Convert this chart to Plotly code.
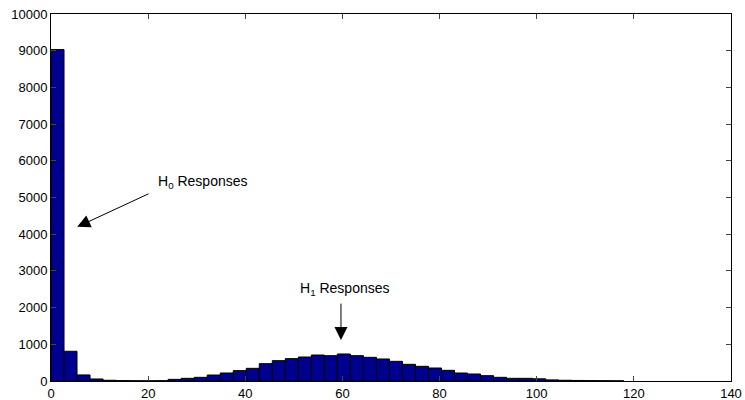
import plotly.graph_objects as go

bin_width = 2.68
counts = [9030, 810, 165, 55, 20, 10, 6, 5, 8, 45,
          73, 100, 163, 218, 282, 345, 472, 554, 609, 654,
          708, 690, 736, 690, 645, 600, 536, 454, 400, 354,
          291, 218, 191, 145, 100, 73, 73, 60, 30, 20,
          15, 10, 8, 5]
centers = [bin_width * (i + 0.5) for i in range(len(counts))]

x_ticks = [0, 20, 40, 60, 80, 100, 120, 140]
y_ticks = [0, 1000, 2000, 3000, 4000, 5000, 6000, 7000, 8000, 9000, 10000]

fig = go.Figure(go.Bar(
    x=centers, y=counts, width=bin_width,
    marker=dict(color="rgb(0,0,143)", line=dict(color="black", width=1)),
))

font = dict(family="Liberation Sans, Arial, sans-serif", size=13, color="black")
afont = dict(family="Liberation Sans, Arial, sans-serif", size=14, color="black")

fig.update_layout(
    width=745, height=400,
    margin=dict(l=51, r=14, t=14, b=19),
    plot_bgcolor="white", paper_bgcolor="white",
    showlegend=False, font=font,
    xaxis=dict(range=[0, 140], tickvals=x_ticks, ticktext=[str(v) for v in x_ticks],
               ticks="inside", ticklen=5, automargin=False,
               showline=True, linecolor="black", linewidth=1, mirror="ticks",
               showgrid=False, zeroline=False, tickfont=font),
    yaxis=dict(range=[0, 10000], tickvals=y_ticks, ticktext=[str(v) for v in y_ticks],
               ticks="inside", ticklen=5, automargin=False,
               showline=True, linecolor="black", linewidth=1, mirror="ticks",
               showgrid=False, zeroline=False, tickfont=font),
    annotations=[
        dict(x=5.4, y=4200, ax=20.4, ay=5120, xref="x", yref="y", axref="x", ayref="y",
             text="", showarrow=True, arrowhead=2, arrowsize=2.6, arrowwidth=1, arrowcolor="black"),
        dict(x=21.6, y=5420, xref="x", yref="y", text="H<sub>0</sub> Responses",
             showarrow=False, xanchor="left", yanchor="middle", font=afont),
        dict(x=59.7, y=1120, ax=59.7, ay=2150, xref="x", yref="y", axref="x", ayref="y",
             text="", showarrow=True, arrowhead=2, arrowsize=2.6, arrowwidth=1, arrowcolor="black"),
        dict(x=60.5, y=2520, xref="x", yref="y", text="H<sub>1</sub> Responses",
             showarrow=False, xanchor="center", yanchor="middle", font=afont),
    ],
)

fig.write_html("out.html")
